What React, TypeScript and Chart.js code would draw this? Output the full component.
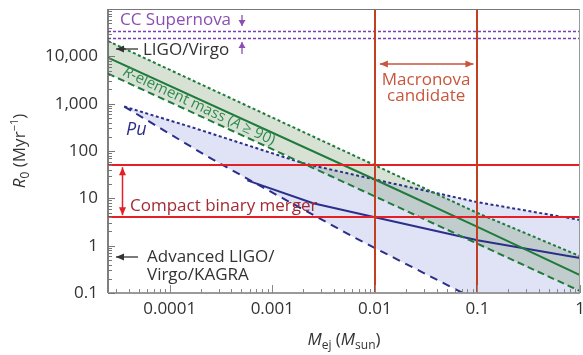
import React, { useEffect, useRef } from 'react';
import { Chart, registerables } from 'chart.js';

Chart.register(...registerables);

const FONT = '"Open Sans", "DejaVu Sans", sans-serif';

// Axis ticks
const xTickValues = [1e-4, 1e-3, 1e-2, 1e-1, 1];
const xTickLabels = ['0.0001', '0.001', '0.01', '0.1', '1'];
const yTickValues = [0.1, 1, 10, 100, 1000, 10000];
const yTickLabels = ['0.1', '1', '10', '100', '1,000', '10,000'];
const xMin = 2.5e-5;
const xMax = 1;
const yMin = 0.1;
const yMax = 1e5;

// R-element mass (A >= 90) band
const rMassX = [2.5e-5, 0.01, 0.1, 1];
const rMassUpper = [21000, 50, 4.9, 0.6];
const rMassCentral = [9400, 25, 2.5, 0.24];
const rMassLower = [4300, 11, 1.1, 0.11];

// Pu band
const puUpperX = [3.6e-5, 1.7e-4, 2e-3, 0.01, 0.1, 1];
const puUpper = [870, 310, 55, 25, 8.3, 3.5];
const puLowerX = [3.6e-5, 2.25e-4, 8.1e-4, 6.5e-3, 0.072, 1];
const puLower = [870, 80, 17, 1.44, 0.1, 0.0055];
const puCentralX = [5.7e-4, 2.5e-3, 0.01, 0.1, 1];
const puCentral = [24, 7.9, 4, 1.3, 0.55];

// Reference levels
const supernovaRates = [35000, 24000];
const mergerRates = [50, 4];
const macronovaMasses = [0.01, 0.1];

const GREEN = '#1f7a3c';
const BLUE = '#2b2f8a';

function pts(xs: number[], ys: number[]) {
  return xs.map((x, i) => ({ x, y: ys[i] }));
}

type Run = { t: string; size: number; italic?: boolean; dy?: number };
function fnt(r: Run) {
  return `${r.italic ? 'italic ' : ''}${r.size}px ${FONT}`;
}
function drawRuns(ctx: CanvasRenderingContext2D, runs: Run[], x: number, y: number, align: 'left' | 'center') {
  let w = 0;
  runs.forEach((r) => {
    ctx.font = fnt(r);
    w += ctx.measureText(r.t).width;
  });
  let cx = align === 'center' ? x - w / 2 : x;
  ctx.textAlign = 'left';
  ctx.textBaseline = 'alphabetic';
  runs.forEach((r) => {
    ctx.font = fnt(r);
    ctx.fillText(r.t, cx, y + (r.dy || 0));
    cx += ctx.measureText(r.t).width;
  });
}

function head(ctx: CanvasRenderingContext2D, x: number, y: number, ang: number, len: number, wid: number) {
  ctx.beginPath();
  ctx.moveTo(x, y);
  ctx.lineTo(x - len * Math.cos(ang) + (wid / 2) * Math.sin(ang), y - len * Math.sin(ang) - (wid / 2) * Math.cos(ang));
  ctx.lineTo(x - len * Math.cos(ang) - (wid / 2) * Math.sin(ang), y - len * Math.sin(ang) + (wid / 2) * Math.cos(ang));
  ctx.closePath();
  ctx.fill();
}

function arrow(
  ctx: CanvasRenderingContext2D,
  x1: number, y1: number, x2: number, y2: number,
  color: string, both: boolean, len = 7, wid = 7, lw = 1.5
) {
  ctx.save();
  ctx.strokeStyle = color;
  ctx.fillStyle = color;
  ctx.lineWidth = lw;
  ctx.setLineDash([]);
  const ang = Math.atan2(y2 - y1, x2 - x1);
  ctx.beginPath();
  ctx.moveTo(x1, y1);
  ctx.lineTo(x2, y2);
  ctx.stroke();
  head(ctx, x2, y2, ang, len, wid);
  if (both) head(ctx, x1, y1, ang + Math.PI, len, wid);
  ctx.restore();
}

const overlay = {
  id: 'overlay',
  afterDatasetsDraw(chart: any) {
    const { ctx, chartArea: a } = chart;
    const xs = chart.scales.x;
    const ys = chart.scales.y;
    ctx.save();
    ctx.beginPath();
    ctx.rect(a.left, a.top, a.right - a.left, a.bottom - a.top);
    ctx.clip();
    // CC supernova levels
    ctx.strokeStyle = '#7b3fae';
    ctx.lineWidth = 1.3;
    ctx.setLineDash([3, 2]);
    supernovaRates.forEach((v) => {
      const py = Math.round(ys.getPixelForValue(v)) + 0.5;
      ctx.beginPath();
      ctx.moveTo(a.left, py);
      ctx.lineTo(a.right, py);
      ctx.stroke();
    });
    ctx.setLineDash([]);
    // compact binary merger levels
    ctx.strokeStyle = '#e41f26';
    ctx.lineWidth = 2;
    mergerRates.forEach((v) => {
      const py = Math.round(ys.getPixelForValue(v));
      ctx.beginPath();
      ctx.moveTo(a.left, py);
      ctx.lineTo(a.right, py);
      ctx.stroke();
    });
    // macronova masses
    ctx.strokeStyle = '#c2401f';
    macronovaMasses.forEach((v) => {
      const px = Math.round(xs.getPixelForValue(v));
      ctx.beginPath();
      ctx.moveTo(px, a.top);
      ctx.lineTo(px, a.bottom);
      ctx.stroke();
    });
    ctx.restore();

    ctx.save();
    // frame
    ctx.lineWidth = 1;
    ctx.strokeStyle = '#777';
    ctx.beginPath();
    ctx.moveTo(a.left, a.top + 0.5);
    ctx.lineTo(a.right, a.top + 0.5);
    ctx.stroke();
    ctx.strokeStyle = '#999';
    ctx.beginPath();
    ctx.moveTo(a.right - 0.5, a.top);
    ctx.lineTo(a.right - 0.5, a.bottom);
    ctx.stroke();
    ctx.strokeStyle = '#555';
    ctx.lineWidth = 1.5;
    ctx.beginPath();
    ctx.moveTo(a.left, a.top);
    ctx.lineTo(a.left, a.bottom);
    ctx.stroke();
    ctx.strokeStyle = '#9a9a9a';
    ctx.lineWidth = 2;
    ctx.beginPath();
    ctx.moveTo(a.left, a.bottom);
    ctx.lineTo(a.right, a.bottom);
    ctx.stroke();

    // minor/major ticks inside
    ctx.strokeStyle = '#777';
    ctx.lineWidth = 1;
    for (let e = -1; e <= 5; e++) {
      for (let m = 1; m <= 9; m++) {
        const v = m * Math.pow(10, e);
        if (v < yMin || v > yMax) continue;
        const py = Math.round(ys.getPixelForValue(v)) + 0.5;
        const len = m === 1 ? 7 : 4;
        ctx.beginPath();
        ctx.moveTo(a.left, py);
        ctx.lineTo(a.left + len, py);
        ctx.stroke();
      }
    }
    ctx.strokeStyle = '#888';
    for (let e = -5; e <= 0; e++) {
      for (let m = 1; m <= 9; m++) {
        const v = m * Math.pow(10, e);
        if (v < xMin || v > xMax) continue;
        const px = Math.round(xs.getPixelForValue(v)) + 0.5;
        const len = m === 1 ? 8 : 4;
        ctx.beginPath();
        ctx.moveTo(px, a.bottom);
        ctx.lineTo(px, a.bottom - len);
        ctx.stroke();
      }
    }

    // annotations
    const PURPLE = '#8b4fb3';
    ctx.fillStyle = PURPLE;
    drawRuns(ctx, [{ t: 'CC Supernova', size: 17 }], 120, 25, 'left');
    arrow(ctx, 242, 15, 242, 26, PURPLE, false, 6, 7, 1.3);

    arrow(ctx, 138, 49, 116, 49, '#333', false, 8, 7, 1.3);
    ctx.fillStyle = '#333';
    drawRuns(ctx, [{ t: 'LIGO/Virgo', size: 17 }], 143, 55, 'left');
    arrow(ctx, 242, 54, 242, 42, PURPLE, false, 6, 7, 1.3);

    // Macronova
    const MAC = '#c8553d';
    const mx1 = xs.getPixelForValue(macronovaMasses[0]);
    const mx2 = xs.getPixelForValue(macronovaMasses[1]);
    arrow(ctx, mx1 + 5, 64, mx2 - 4, 64, MAC, true, 8, 7, 1.5);
    ctx.fillStyle = MAC;
    drawRuns(ctx, [{ t: 'Macronova', size: 17 }], (mx1 + mx2) / 2, 85, 'center');
    drawRuns(ctx, [{ t: 'candidate', size: 17 }], (mx1 + mx2) / 2, 101, 'center');

    // Compact binary merger
    const y50 = ys.getPixelForValue(mergerRates[0]);
    const y4 = ys.getPixelForValue(mergerRates[1]);
    arrow(ctx, 122.5, y50 + 2, 122.5, y4 - 2, '#e41f26', true, 8, 7, 1.5);
    ctx.fillStyle = '#a52a33';
    drawRuns(ctx, [{ t: 'Compact binary merger', size: 17 }], 130, 211, 'left');

    // Advanced LIGO
    arrow(ctx, 138, 257, 116, 257, '#333', false, 8, 7, 1.3);
    ctx.fillStyle = '#333';
    drawRuns(ctx, [{ t: 'Advanced LIGO/', size: 17 }], 147, 262, 'left');
    drawRuns(ctx, [{ t: 'Virgo/KAGRA', size: 17 }], 147, 280, 'left');

    // R-element label
    ctx.save();
    ctx.translate(122, 75);
    ctx.rotate((25 * Math.PI) / 180);
    ctx.fillStyle = '#2f8a4e';
    drawRuns(
      ctx,
      [
        { t: 'R', size: 15, italic: true },
        { t: '-element mass (', size: 15 },
        { t: 'A', size: 15, italic: true },
        { t: ' \u2265 90)', size: 15 },
      ],
      0,
      0,
      'left'
    );
    ctx.restore();

    // Pu
    ctx.fillStyle = BLUE;
    drawRuns(ctx, [{ t: 'Pu', size: 18, italic: true }], 126, 135, 'left');

    // axis titles
    ctx.fillStyle = '#333';
    drawRuns(
      ctx,
      [
        { t: 'M', size: 17, italic: true },
        { t: 'ej', size: 12, dy: 4 },
        { t: ' (', size: 17 },
        { t: 'M', size: 17, italic: true },
        { t: 'sun', size: 12, dy: 4 },
        { t: ')', size: 17 },
      ],
      (a.left + a.right) / 2,
      345,
      'center'
    );
    ctx.save();
    ctx.translate(25, (a.top + a.bottom) / 2);
    ctx.rotate(-Math.PI / 2);
    drawRuns(
      ctx,
      [
        { t: 'R', size: 17, italic: true },
        { t: '0', size: 12, dy: 4 },
        { t: ' (Myr', size: 17 },
        { t: '\u22121', size: 11, dy: -7 },
        { t: ')', size: 17 },
      ],
      0,
      0,
      'center'
    );
    ctx.restore();
    ctx.restore();
  },
};

export default function App() {
  const ref = useRef<HTMLCanvasElement>(null);
  useEffect(() => {
    if (!ref.current) return;
    const chart = new Chart(ref.current, {
      type: 'line',
      data: {
        datasets: [
          {
            data: pts(rMassX, rMassUpper),
            borderColor: GREEN,
            borderWidth: 2,
            borderDash: [3, 2.5],
            backgroundColor: 'rgba(110,150,100,0.28)',
            fill: '+1',
            pointRadius: 0,
          },
          {
            data: pts(rMassX, rMassLower),
            borderColor: GREEN,
            borderWidth: 2,
            borderDash: [7, 4],
            fill: false,
            pointRadius: 0,
          },
          {
            data: pts(rMassX, rMassCentral),
            borderColor: GREEN,
            borderWidth: 2,
            fill: false,
            pointRadius: 0,
          },
          {
            data: pts(puUpperX, puUpper),
            borderColor: BLUE,
            borderWidth: 2,
            borderDash: [3, 2.5],
            backgroundColor: 'rgba(100,108,205,0.2)',
            fill: '+1',
            pointRadius: 0,
          },
          {
            data: pts(puLowerX, puLower),
            borderColor: BLUE,
            borderWidth: 2,
            borderDash: [8, 6],
            fill: false,
            pointRadius: 0,
          },
          {
            data: pts(puCentralX, puCentral),
            borderColor: BLUE,
            borderWidth: 2,
            fill: false,
            pointRadius: 0,
          },
        ] as any,
      },
      options: {
        animation: false,
        responsive: false,
        events: [],
        layout: { padding: { top: 9, right: 3, left: 0, bottom: 0 } },
        plugins: {
          legend: { display: false },
          tooltip: { enabled: false },
          filler: { drawTime: 'beforeDatasetsDraw' },
        } as any,
        scales: {
          x: {
            type: 'logarithmic',
            min: xMin,
            max: xMax,
            grid: { display: false, drawTicks: false },
            border: { display: false },
            afterBuildTicks: (s: any) => {
              s.ticks = xTickValues.map((v) => ({ value: v }));
            },
            afterFit: (s: any) => {
              s.height = 62;
              s.paddingLeft = 0;
              s.paddingRight = 0;
            },
            ticks: {
              autoSkip: false,
              maxRotation: 0,
              padding: 6,
              color: '#333',
              font: { family: FONT, size: 17 },
              callback: (v: any) => {
                const i = xTickValues.indexOf(v);
                return i >= 0 ? xTickLabels[i] : '';
              },
            },
          },
          y: {
            type: 'logarithmic',
            min: yMin,
            max: yMax,
            grid: { display: false, drawTicks: false },
            border: { display: false },
            afterBuildTicks: (s: any) => {
              s.ticks = yTickValues.map((v) => ({ value: v }));
            },
            afterFit: (s: any) => {
              s.width = 108;
              s.paddingTop = 0;
              s.paddingBottom = 0;
            },
            ticks: {
              autoSkip: false,
              padding: 10,
              color: '#333',
              font: { family: FONT, size: 17 },
              callback: (v: any) => {
                const i = yTickValues.indexOf(v);
                return i >= 0 ? yTickLabels[i] : '';
              },
            },
          },
        } as any,
      },
      plugins: [overlay],
    });
    return () => chart.destroy();
  }, []);
  return (
    <div style={{ position: 'absolute', left: 0, top: 0, width: 583, height: 355 }}>
      <canvas ref={ref} width={583} height={355} />
    </div>
  );
}
